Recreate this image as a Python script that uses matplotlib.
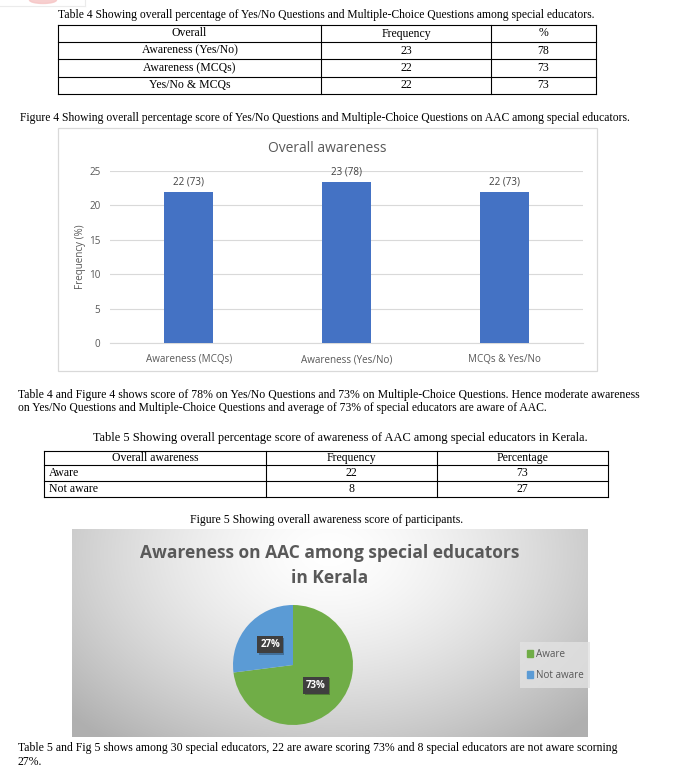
import matplotlib
matplotlib.use('Agg')
import matplotlib.pyplot as plt
import numpy as np
from matplotlib.patches import Rectangle, Ellipse
from matplotlib.lines import Line2D
from matplotlib.transforms import IdentityTransform

# ---------------- data ----------------
t4_caption = "Table 4 Showing overall percentage of Yes/No Questions and Multiple-Choice Questions among special educators."
t4_header = ["Overall", "Frequency", "%"]
t4_rows = [["Awareness (Yes/No)", "23", "78"],
           ["Awareness (MCQs)", "22", "73"],
           ["Yes/No & MCQs", "22", "73"]]

fig4_caption = "Figure 4 Showing overall percentage score of Yes/No Questions and Multiple-Choice Questions on AAC among special educators."
bar_title = "Overall awareness"
bar_categories = ["Awareness (MCQs)", "Awareness (Yes/No)", "MCQs & Yes/No"]
bar_values = [21.9, 23.4, 21.9]
bar_labels = ["22 (73)", "23 (78)", "22 (73)"]
bar_yticks = [0, 5, 10, 15, 20, 25]
bar_ylabel = "Frequency (%)"

para1 = ["Table 4 and Figure 4 shows score of 78% on Yes/No Questions and 73% on Multiple-Choice Questions. Hence moderate awareness",
         "on Yes/No Questions and Multiple-Choice Questions and average of 73% of special educators are aware of AAC."]

t5_caption = "Table 5 Showing overall percentage score of awareness of AAC among special educators in Kerala."
t5_header = ["Overall awareness", "Frequency", "Percentage"]
t5_rows = [["Aware", "22", "73"],
           ["Not aware", "8", "27"]]

fig5_caption = "Figure 5 Showing overall awareness score of participants."
pie_title = "Awareness on AAC among special educators\nin Kerala"
pie_labels = ["Aware", "Not aware"]
pie_values = [73, 27]
pie_colors = ["#70AD47", "#5B9BD5"]

para2 = ["Table 5 and Fig 5 shows among 30 special educators, 22 are aware scoring 73% and 8 special educators are not aware scorning",
         "27%."]

# ---------------- layout helpers ----------------
W, H = 674, 774
fig = plt.figure(figsize=(W / 100, H / 100), dpi=100)
renderer = fig.canvas.get_renderer()

SERIF = ['Liberation Serif', 'DejaVu Serif']
SANS = ['Open Sans', 'DejaVu Sans']
GRAY = '#595959'


def fx(x):
    return x / W


def fy(y):
    return 1 - y / H


def rect(x0, y0, x1, y1):
    return [x0 / W, 1 - y1 / H, (x1 - x0) / W, (y1 - y0) / H]


def fit_text(x, y, s, width, ha='left', **kw):
    t = fig.text(fx(x), fy(y), s, ha=ha, va='center', fontsize=8, **kw)
    w = t.get_window_extent(renderer).width
    t.set_fontsize(8 * width / w)
    return t


def hline(x0, x1, y, **kw):
    fig.add_artist(Line2D([fx(x0), fx(x1)], [fy(y), fy(y)], **kw))


def vline(x, y0, y1, **kw):
    fig.add_artist(Line2D([fx(x), fx(x)], [fy(y0), fy(y1)], **kw))


def draw_table(xs, ys, header, rows, fs, left_first=False):
    kw = dict(color='black', lw=0.8)
    for y in ys:
        hline(xs[0], xs[-1], y, **kw)
    for x in xs:
        vline(x, ys[0], ys[-1], **kw)
    allrows = [header] + rows
    for r, row in enumerate(allrows):
        yc = (ys[r] + ys[r + 1]) / 2
        for c, cell in enumerate(row):
            if left_first and c == 0 and r > 0:
                fig.text(fx(xs[0] + 5), fy(yc), cell, ha='left', va='center',
                         fontsize=fs, family=SERIF)
            else:
                fig.text(fx((xs[c] + xs[c + 1]) / 2), fy(yc), cell, ha='center',
                         va='center', fontsize=fs, family=SERIF)


# faint logo remnant top-left
fig.add_artist(Ellipse((fx(43), fy(0)), 27 / W, 7 / H, color='#f6c4c4', alpha=0.8))
vline(85, 0, 6, color='#ebebeb', lw=0.8)
hline(0, 85, 6, color='#ebebeb', lw=0.8)

# ---------------- Table 4 ----------------
fit_text(58, 15, t4_caption, 538, family=SERIF)
draw_table([58, 321, 491, 596], [25, 42, 59, 77, 94], t4_header, t4_rows, fs=8.5)

# ---------------- Figure 4 (bar chart) ----------------
fit_text(20, 118, fig4_caption, 612, family=SERIF)
fig.add_artist(Rectangle((fx(58), fy(371)), (597 - 58) / W, (371 - 128) / H,
                         transform=fig.transFigure, facecolor='white',
                         edgecolor='#d9d9d9', lw=0.9, zorder=0))
ax = fig.add_axes(rect(110, 171, 583, 343))
ax.set_facecolor('none')
xpos = np.arange(len(bar_categories))
ax.bar(xpos, bar_values, width=0.31, color='#4472C4', zorder=3)
ax.set_xlim(-0.5, len(bar_categories) - 0.5)
ax.set_ylim(0, 25)
ax.set_yticks(bar_yticks)
ax.set_xticks(xpos)
ax.set_xticklabels(bar_categories, family=SANS, fontsize=7.1, color=GRAY)
ax.set_yticklabels([str(v) for v in bar_yticks], family=SANS, fontsize=7.1, color=GRAY)
ax.tick_params(length=0)
ax.tick_params(axis='y', pad=7)
ax.tick_params(axis='x', pad=8)
ax.yaxis.grid(True, color='#d9d9d9', lw=0.8, zorder=0)
for s in ['top', 'right', 'left']:
    ax.spines[s].set_visible(False)
ax.spines['bottom'].set_color('#d9d9d9')
ax.spines['bottom'].set_linewidth(0.8)
for i, (v, lab) in enumerate(zip(bar_values, bar_labels)):
    ax.annotate(lab, (i, v), xytext=(0, 7.5), textcoords='offset points',
                ha='center', va='center', family=SANS, fontsize=7.1, color='#404040')
fig.text(fx(327), fy(148), bar_title, ha='center', va='center', family=SANS,
         fontsize=10, color=GRAY)
fig.text(fx(80), fy(257), bar_ylabel, ha='center', va='center', rotation=90,
         family=SANS, fontsize=7.1, color=GRAY)

# ---------------- paragraph 1 ----------------
fit_text(18, 395, para1[0], 618, family=SERIF)
fit_text(18, 408, para1[1], 530, family=SERIF)

# ---------------- Table 5 ----------------
fit_text(93, 438, t5_caption, 492, family=SERIF)
draw_table([44, 266, 437, 608], [451, 465, 481, 497], t5_header, t5_rows,
           fs=8.5, left_first=True)

# ---------------- Figure 5 (pie chart) ----------------
fit_text(190, 520, fig5_caption, 274, family=SERIF)
bx0, by0, bx1, by1 = 72, 529, 588, 737
ax_bg = fig.add_axes(rect(bx0, by0, bx1, by1))
hh, ww = by1 - by0, bx1 - bx0
vv, uu = np.mgrid[0:1:hh * 1j, 0:1:ww * 1j]
d = np.sqrt(((uu - 0.5) / 0.62) ** 2 + ((vv - 0.12) / 1.05) ** 2)
g = 1 - 0.27 * np.clip(d, 0, 1.1) ** 1.5
img = np.dstack([g, g, g])
ax_bg.imshow(img, aspect='auto', extent=[0, 1, 0, 1], interpolation='bilinear')
ax_bg.set_axis_off()

fig.text(fx(330), fy(565.5), pie_title, ha='center', va='center', family=SANS,
         fontsize=12.5, fontweight='bold', color=GRAY, linespacing=1.45)

ax_p = fig.add_axes(rect(233, 605, 353, 725))
wedges, texts, autotexts = ax_p.pie(
    pie_values, colors=pie_colors, startangle=90, counterclock=False,
    autopct='%d%%', pctdistance=0.51, wedgeprops=dict(linewidth=0))
for t in autotexts:
    t.set_color('white')
    t.set_fontweight('bold')
    t.set_fontsize(7)
    t.set_family(SANS)
    t.set_bbox(dict(boxstyle='square,pad=0.3', facecolor='#3f3f3f', edgecolor='none'))
ax_p.set_xlim(-1, 1)
ax_p.set_ylim(-1, 1)
ax_p.set_aspect('auto')

# soft shadows behind the label boxes (patches, drawn between wedges and text)
fig.canvas.draw()
for t in autotexts:
    bb = t.get_bbox_patch().get_window_extent(renderer)
    sh = Rectangle((bb.x0 + 1.5, bb.y0 - 1.5), bb.width, bb.height,
                   transform=IdentityTransform(), facecolor='black',
                   edgecolor='none', alpha=0.28, zorder=2.5, clip_on=False)
    ax_p.add_artist(sh)

handles = [Rectangle((0, 0), 1, 1, color=c) for c in pie_colors]
leg = fig.legend(handles, pie_labels, loc='center left',
                 bbox_to_anchor=(fx(515), fy(665)), frameon=True, fancybox=False,
                 handlelength=0.6, handleheight=0.6, handletextpad=0.3,
                 labelspacing=1.0, borderpad=0.7,
                 prop={'family': SANS, 'size': 7.1})
leg.get_frame().set_facecolor('#e2e2e2')
leg.get_frame().set_edgecolor('none')
for t in leg.get_texts():
    t.set_color(GRAY)

# ---------------- paragraph 2 ----------------
fit_text(18, 748, para2[0], 594, family=SERIF)
fig.text(fx(18), fy(762), para2[1], ha='left', va='center', family=SERIF,
         fontsize=fig.texts[-1].get_fontsize())

fig.savefig('out.png', dpi=100)
